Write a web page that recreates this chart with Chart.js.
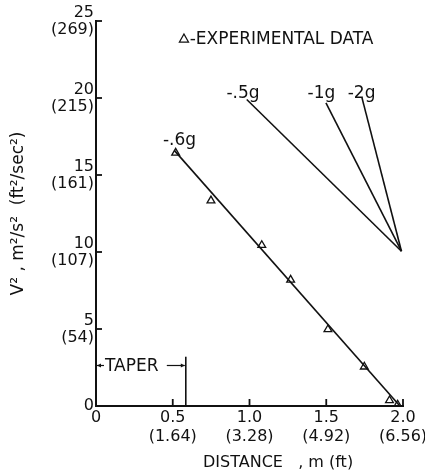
<!DOCTYPE html>
<html><head><meta charset="utf-8">
<script src="https://cdn.jsdelivr.net/npm/chart.js@4/dist/chart.umd.min.js"></script>
<style>html,body{margin:0;padding:0;background:#fff}#wrap{width:425px;height:474px}</style>
</head><body><div id="wrap"><canvas id="c" width="425" height="474"></canvas></div>
<script>
// ---- data ----
const expDistance = [0.519, 0.749, 1.080, 1.268, 1.511, 1.748, 1.912, 1.965];
const expV2       = [16.44, 13.34, 10.44, 8.19, 4.97, 2.55, 0.36, 0.08];
const decelLabels        = ['-.6g', '-.5g', '-1g', '-2g'];
const decelStartDistance = [0.51, 0.982, 1.498, 1.733];
const decelStartV2       = [16.6, 19.9, 19.69, 20.01];
const decelEndDistance   = [1.98, 1.99, 1.99, 1.99];
const decelEndV2         = [0, 10.05, 10.05, 10.05];
const xTickMeters = ['0', '0.5', '1.0', '1.5', '2.0'];
const xTickFeet   = ['', '(1.64)', '(3.28)', '(4.92)', '(6.56)'];
const yTickMain   = ['0', '5', '10', '15', '20', '25'];
const yTickFeet   = ['', '(54)', '(107)', '(161)', '(215)', '(269)'];
const taperEndDistance = 0.585;
const taperHeightV2 = 3.2;

const FONT = "'DejaVu Sans', 'Liberation Sans', sans-serif";
const INK = '#111';

const datasets = [];
decelLabels.forEach((lab, i) => {
  datasets.push({
    label: lab,
    data: [{x: decelStartDistance[i], y: decelStartV2[i]}, {x: decelEndDistance[i], y: decelEndV2[i]}],
    showLine: true, borderColor: INK, borderWidth: 1.6, pointRadius: 0, fill: false
  });
});
datasets.push({
  label: 'EXPERIMENTAL DATA',
  data: expDistance.map((d, i) => ({x: d, y: expV2[i]})),
  showLine: false, pointStyle: 'triangle', pointRadius: 4.5,
  borderColor: INK, backgroundColor: 'rgba(0,0,0,0)', borderWidth: 1.3
});

// label anchors (data coordinates)
const labelAnchors = [{x: 0.544, y: 16.98}, {x: 0.958, y: 20.03}, {x: 1.469, y: 20.03}, {x: 1.73, y: 20.03}];

const decor = {
  id: 'decor',
  afterDraw(chart) {
    const ctx = chart.ctx, xs = chart.scales.x, ys = chart.scales.y;
    ctx.save();
    ctx.strokeStyle = INK; ctx.fillStyle = INK;
    // inward tick marks
    ctx.lineWidth = 1.8;
    const x0 = xs.getPixelForValue(0), y0 = ys.getPixelForValue(0);
    ys.ticks.forEach(t => { if (t.value === 0) return; const p = ys.getPixelForValue(t.value);
      ctx.beginPath(); ctx.moveTo(x0, p); ctx.lineTo(x0 + 6, p); ctx.stroke(); });
    xs.ticks.forEach(t => { if (t.value === 0) return; const p = xs.getPixelForValue(t.value);
      ctx.beginPath(); ctx.moveTo(p, y0); ctx.lineTo(p, y0 - 7); ctx.stroke(); });
    // line labels
    ctx.font = '17px ' + FONT; ctx.textAlign = 'center'; ctx.textBaseline = 'alphabetic';
    decelLabels.forEach((lab, i) => {
      ctx.fillText(lab, xs.getPixelForValue(labelAnchors[i].x), ys.getPixelForValue(labelAnchors[i].y));
    });
    // legend
    const lx = xs.getPixelForValue(0.573), ly = ys.getPixelForValue(23.86);
    ctx.lineWidth = 1.3;
    ctx.beginPath(); ctx.moveTo(lx, ly - 4.5); ctx.lineTo(lx + 4.5, ly + 3.5); ctx.lineTo(lx - 4.5, ly + 3.5); ctx.closePath(); ctx.stroke();
    ctx.textAlign = 'left';
    ctx.fillText('-EXPERIMENTAL DATA', xs.getPixelForValue(0.61), ys.getPixelForValue(23.5));
    // taper
    const tx = xs.getPixelForValue(taperEndDistance), ty = ys.getPixelForValue(taperHeightV2);
    ctx.lineWidth = 1.6;
    ctx.beginPath(); ctx.moveTo(tx, y0); ctx.lineTo(tx, ty); ctx.stroke();
    const ay = ys.getPixelForValue(2.63);
    ctx.lineWidth = 1.2;
    ctx.beginPath(); ctx.moveTo(x0 + 1, ay); ctx.lineTo(x0 + 8, ay); ctx.stroke();
    ctx.beginPath(); ctx.moveTo(x0 + 1, ay); ctx.lineTo(x0 + 5, ay - 2); ctx.lineTo(x0 + 5, ay + 2); ctx.closePath(); ctx.fill();
    ctx.beginPath(); ctx.moveTo(tx - 19, ay); ctx.lineTo(tx - 1, ay); ctx.stroke();
    ctx.beginPath(); ctx.moveTo(tx - 1, ay); ctx.lineTo(tx - 5, ay - 2); ctx.lineTo(tx - 5, ay + 2); ctx.closePath(); ctx.fill();
    ctx.textAlign = 'left'; ctx.textBaseline = 'middle';
    ctx.fillText('TAPER', x0 + 9, ay + 1);
    // x axis title
    ctx.font = '16px ' + FONT;
    ctx.textAlign = 'left'; ctx.textBaseline = 'alphabetic';
    ctx.fillText('DISTANCE   , m (ft)', 203, 467);
    ctx.restore();
  }
};

new Chart(document.getElementById('c'), {
  type: 'scatter',
  data: {datasets},
  options: {
    responsive: false, devicePixelRatio: 1, animation: false,
    layout: {padding: {top: 21, right: 22, left: 0, bottom: 0}},
    plugins: {legend: {display: false}, tooltip: {enabled: false}},
    scales: {
      x: {
        type: 'linear', min: 0, max: 2,
        grid: {display: false, drawTicks: false},
        border: {display: true, color: INK, width: 2},
        ticks: {stepSize: 0.5, color: INK, padding: 3, maxRotation: 0, autoSkip: false,
          font: {family: FONT, size: 16, lineHeight: 1.15},
          callback: (v, i) => xTickFeet[i] ? [xTickMeters[i], xTickFeet[i]] : xTickMeters[i]},
        afterFit: s => { s.height = 68; s.paddingLeft = 0; s.paddingRight = 0; }
      },
      y: {
        type: 'linear', min: 0, max: 25,
        grid: {display: false, drawTicks: false},
        border: {display: true, color: INK, width: 2},
        ticks: {stepSize: 5, color: INK, padding: 2, autoSkip: false,
          font: {family: FONT, size: 16, lineHeight: 1.05},
          callback: (v, i) => yTickFeet[i] ? [yTickMain[i], yTickFeet[i]] : yTickMain[i]},
        title: {display: true, text: 'V² , m²/s²  (ft²/sec²)', color: INK,
          font: {family: FONT, size: 17}, padding: {top: 8, bottom: 0}},
        afterFit: s => { s.width = 96; s.paddingTop = 0; s.paddingBottom = 0; }
      }
    }
  },
  plugins: [decor]
});
</script></body></html>
